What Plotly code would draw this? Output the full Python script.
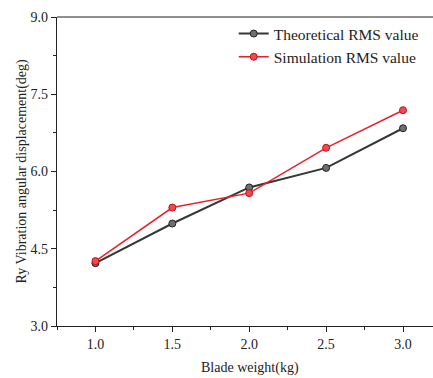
import plotly.graph_objects as go

blade_weight = [1.0, 1.5, 2.0, 2.5, 3.0]
theoretical_rms = [4.22, 4.99, 5.69, 6.07, 6.84]
simulation_rms = [4.26, 5.30, 5.58, 6.46, 7.19]

x_ticks = [1.0, 1.5, 2.0, 2.5, 3.0]
y_ticks = [3.0, 4.5, 6.0, 7.5, 9.0]

FONT = "Liberation Serif, DejaVu Serif, serif"

fig = go.Figure()
fig.add_trace(go.Scatter(
    x=blade_weight, y=theoretical_rms, mode="lines+markers",
    name="Theoretical RMS value",
    line=dict(color="#363636", width=2),
    marker=dict(size=7, color="#6e6e6e", line=dict(color="#222222", width=1)),
))
fig.add_trace(go.Scatter(
    x=blade_weight, y=simulation_rms, mode="lines+markers",
    name="Simulation RMS value",
    line=dict(color="#e8202a", width=1.5),
    marker=dict(size=7, color="#f04a50", line=dict(color="#c0101a", width=1)),
))

fig.update_layout(
    width=433, height=378,
    margin=dict(l=57, r=0, t=17, b=52),
    paper_bgcolor="white", plot_bgcolor="white",
    font=dict(family=FONT, color="#222222"),
    showlegend=True,
    legend=dict(x=0.47, y=1.0, xanchor="left", yanchor="top",
                bgcolor="rgba(0,0,0,0)", font=dict(size=15.5, family=FONT),
                tracegroupgap=0, itemwidth=30),
    xaxis=dict(range=[0.75, 3.195], tickvals=x_ticks,
               ticktext=[f"{v:.1f}" for v in x_ticks],
               showgrid=False, zeroline=False, showline=True,
               linecolor="#222222", linewidth=1.2, automargin=False,
               ticks="outside", ticklen=5, tickcolor="#222222",
               minor=dict(ticks="outside", ticklen=3, dtick=0.25, tick0=0.75,
                          tickcolor="#222222"),
               tickfont=dict(size=14, family=FONT)),
    yaxis=dict(range=[3.0, 9.0], tickvals=y_ticks,
               ticktext=[f"{v:.1f}" for v in y_ticks],
               showgrid=False, zeroline=False, showline=True,
               linecolor="#222222", linewidth=1.2, automargin=False,
               ticks="outside", ticklen=5, tickcolor="#222222",
               minor=dict(ticks="outside", ticklen=3, dtick=0.75, tick0=3.0,
                          tickcolor="#222222"),
               tickfont=dict(size=14, family=FONT)),
)
fig.add_shape(type="line", xref="paper", yref="paper", x0=0, x1=1, y0=1, y1=1,
              line=dict(color="#222222", width=1.2))
fig.add_annotation(text="Blade weight(kg)", xref="paper", yref="paper",
                   x=(250 - 57) / 376, y=-(368 - 326) / 309,
                   showarrow=False, xanchor="center", yanchor="middle",
                   font=dict(size=14, family=FONT))
fig.add_annotation(text="Ry Vibration angular displacement(deg)", xref="paper", yref="paper",
                   x=-(57 - 21) / 376, y=0.5, textangle=-90,
                   showarrow=False, xanchor="center", yanchor="middle",
                   font=dict(size=14, family=FONT))

fig.write_html("out.html", config={"displayModeBar": False},
               post_script="document.body.style.margin='0';document.body.style.overflow='hidden';")
